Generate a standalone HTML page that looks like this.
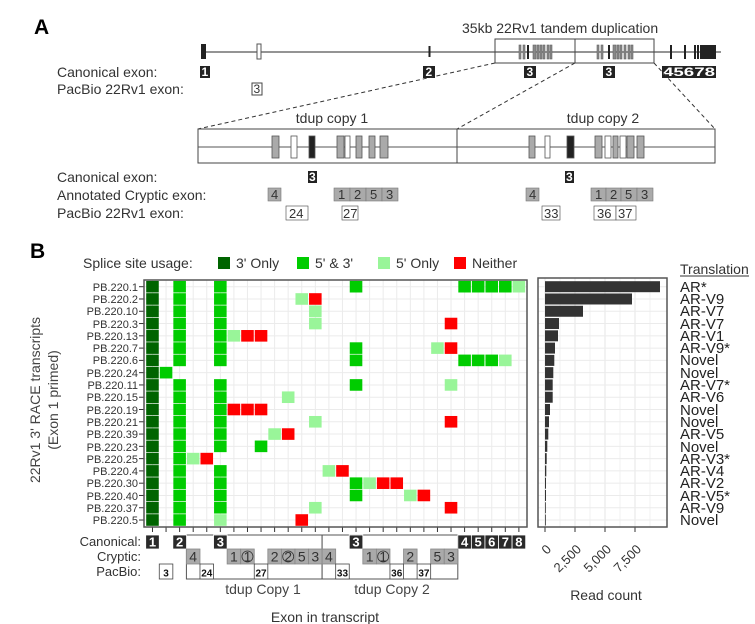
<!DOCTYPE html>
<html><head><meta charset="utf-8"><style>
body{margin:0;background:#fff;}
svg{display:block;font-family:"Liberation Sans",Arial,sans-serif;}
</style></head><body>
<svg id="s" width="755" height="624" viewBox="0 0 755 624" xmlns="http://www.w3.org/2000/svg">
<!-- Panel A -->
<text x="34" y="34" font-size="21" font-weight="bold">A</text>
<text x="462" y="33" font-size="14" fill="#333">35kb 22Rv1 tandem duplication</text>
<line x1="201" y1="52" x2="721" y2="52" stroke="#555" stroke-width="1.2"/>
<rect x="201" y="44" width="5" height="15" fill="#222"/>
<rect x="257" y="44" width="4" height="15" fill="#fff" stroke="#555"/>
<rect x="428.5" y="46" width="2" height="11" fill="#222"/>
<rect x="495" y="39" width="159" height="24" fill="none" stroke="#444"/>
<line x1="575" y1="39" x2="575" y2="63" stroke="#444"/>
<g fill="#888" stroke="#666" stroke-width="0.6">
<rect x="519" y="45" width="2" height="14"/><rect x="523" y="45" width="2" height="14"/><rect x="533" y="45" width="3" height="14"/><rect x="537" y="45" width="2" height="14"/><rect x="540" y="45" width="2" height="14"/><rect x="543" y="45" width="2" height="14"/><rect x="547" y="45" width="2" height="14"/><rect x="550" y="45" width="2" height="14"/>
<rect x="597" y="45" width="2" height="14"/><rect x="601" y="45" width="2" height="14"/><rect x="613" y="45" width="3" height="14"/><rect x="617" y="45" width="2" height="14"/><rect x="620" y="45" width="2" height="14"/><rect x="624" y="45" width="2" height="14"/><rect x="628" y="45" width="2" height="14"/><rect x="631" y="45" width="2" height="14"/>
</g>
<rect x="527" y="45" width="2" height="14" fill="#222"/><rect x="608" y="45" width="2" height="14" fill="#222"/>
<rect x="670" y="45" width="2" height="14" fill="#222"/><rect x="684" y="45" width="2" height="14" fill="#222"/>
<rect x="694" y="45" width="2" height="14" fill="#222"/><rect x="697" y="45" width="2" height="14" fill="#222"/>
<rect x="700" y="45" width="16" height="14" fill="#222"/>
<g font-size="14" fill="#333">
<text x="57" y="77">Canonical exon:</text>
<text x="57" y="94">PacBio 22Rv1 exon:</text>
</g>
<g font-size="12" font-weight="bold" fill="#fff">
<rect x="200" y="66" width="10" height="12" fill="#222"/><text x="201.5" y="76">1</text>
<rect x="423" y="66" width="12" height="12" fill="#222"/><text x="425.5" y="76">2</text>
<rect x="524" y="66" width="12" height="12" fill="#222"/><text x="526.5" y="76">3</text>
<rect x="603" y="66" width="12" height="12" fill="#222"/><text x="605.5" y="76">3</text>
<rect x="662" y="66" width="54" height="12" fill="#222"/>
<text x="663" y="76" textLength="52" lengthAdjust="spacingAndGlyphs">45678</text>
</g>
<rect x="252" y="83" width="10" height="12" fill="#fff" stroke="#444"/><text x="253.5" y="93" font-size="12" fill="#333">3</text>
<g stroke="#333" stroke-dasharray="4,3" stroke-width="1">
<line x1="495" y1="63" x2="198" y2="129"/>
<line x1="575" y1="63" x2="457" y2="129"/>
<line x1="654" y1="63" x2="715" y2="129"/>
</g>
<text x="332" y="123" font-size="14" fill="#333" text-anchor="middle">tdup copy 1</text>
<text x="603" y="123" font-size="14" fill="#333" text-anchor="middle">tdup copy 2</text>
<rect x="198" y="129" width="517" height="34" fill="#fff" stroke="#444"/>
<line x1="457" y1="129" x2="457" y2="163" stroke="#444"/>
<line x1="198" y1="147" x2="715" y2="147" stroke="#555"/>
<g stroke="#555" stroke-width="0.8">
<rect x="272" y="136" width="7" height="22" fill="#aaa"/><rect x="291" y="136" width="6" height="22" fill="#fff"/><rect x="309" y="136" width="6" height="22" fill="#222"/>
<rect x="337" y="136" width="7" height="22" fill="#aaa"/><rect x="345" y="136" width="5" height="22" fill="#fff"/><rect x="356" y="136" width="6" height="22" fill="#aaa"/><rect x="369" y="136" width="6" height="22" fill="#aaa"/><rect x="380" y="136" width="8" height="22" fill="#aaa"/>
<rect x="529" y="136" width="6" height="22" fill="#aaa"/><rect x="545" y="136" width="5" height="22" fill="#fff"/><rect x="567" y="136" width="7" height="22" fill="#222"/>
<rect x="595" y="136" width="7" height="22" fill="#aaa"/><rect x="605" y="136" width="6" height="22" fill="#fff"/><rect x="613" y="136" width="5" height="22" fill="#aaa"/><rect x="620" y="136" width="6" height="22" fill="#fff"/><rect x="627" y="136" width="7" height="22" fill="#aaa"/><rect x="637" y="136" width="7" height="22" fill="#aaa"/>
</g>
<g font-size="14" fill="#333">
<text x="57" y="182">Canonical exon:</text>
<text x="57" y="200">Annotated Cryptic exon:</text>
<text x="57" y="218">PacBio 22Rv1 exon:</text>
</g>
<g font-size="12" font-weight="bold" fill="#fff">
<rect x="308" y="171" width="9" height="12" fill="#222"/><text x="309" y="181">3</text>
<rect x="565" y="171" width="9" height="12" fill="#222"/><text x="566" y="181">3</text>
</g>
<g font-size="13" fill="#333" stroke="#777" stroke-width="0.6">
<rect x="268" y="188" width="13" height="13" fill="#aaa"/>
<rect x="334" y="188" width="16" height="13" fill="#aaa"/><rect x="350" y="188" width="16" height="13" fill="#aaa"/><rect x="366" y="188" width="16" height="13" fill="#aaa"/><rect x="382" y="188" width="16" height="13" fill="#aaa"/>
<rect x="526" y="188" width="13" height="13" fill="#aaa"/>
<rect x="591" y="188" width="15" height="13" fill="#aaa"/><rect x="606" y="188" width="15" height="13" fill="#aaa"/><rect x="621" y="188" width="16" height="13" fill="#aaa"/><rect x="637" y="188" width="16" height="13" fill="#aaa"/>
<rect x="286" y="206" width="22" height="14" fill="#fff" stroke="#444"/><rect x="342" y="206" width="16" height="14" fill="#fff" stroke="#444"/>
<rect x="542" y="206" width="18" height="14" fill="#fff" stroke="#444"/><rect x="594" y="206" width="22" height="14" fill="#fff" stroke="#444"/><rect x="616" y="206" width="20" height="14" fill="#fff" stroke="#444"/>
</g>
<g font-size="13" fill="#333">
<text x="271" y="199">4</text><text x="338" y="199">1</text><text x="354" y="199">2</text><text x="370" y="199">5</text><text x="386" y="199">3</text>
<text x="529" y="199">4</text><text x="595" y="199">1</text><text x="610" y="199">2</text><text x="625" y="199">5</text><text x="641" y="199">3</text>
<text x="289" y="218">24</text><text x="343" y="218">27</text><text x="544" y="218">33</text><text x="597" y="218">36</text><text x="618" y="218">37</text>
</g>

<!-- Panel B -->
<text x="30" y="258" font-size="21" font-weight="bold">B</text>
<g font-size="14" fill="#333">
<text x="83" y="268">Splice site usage:</text>
<rect x="218" y="257" width="12" height="12" fill="#006400"/><text x="236" y="268">3' Only</text>
<rect x="297" y="257" width="12" height="12" fill="#00cc00"/><text x="315" y="268">5' &amp; 3'</text>
<rect x="378" y="257" width="12" height="12" fill="#99f599"/><text x="396" y="268">5' Only</text>
<rect x="454" y="257" width="12" height="12" fill="#ff0000"/><text x="472" y="268">Neither</text>
</g>
<g id="grid"></g>
<rect x="144" y="280" width="383" height="247" fill="none" stroke="#555" stroke-width="1.5"/>
<g font-size="11" fill="#333" text-anchor="end">
<text x="138" y="291">PB.220.1</text><text x="138" y="303">PB.220.2</text><text x="138" y="315">PB.220.10</text><text x="138" y="328">PB.220.3</text><text x="138" y="340">PB.220.13</text><text x="138" y="352">PB.220.7</text><text x="138" y="364">PB.220.6</text><text x="138" y="377">PB.220.24</text><text x="138" y="389">PB.220.11</text><text x="138" y="401">PB.220.15</text><text x="138" y="414">PB.220.19</text><text x="138" y="426">PB.220.21</text><text x="138" y="438">PB.220.39</text><text x="138" y="451">PB.220.23</text><text x="138" y="463">PB.220.25</text><text x="138" y="475">PB.220.4</text><text x="138" y="487">PB.220.30</text><text x="138" y="500">PB.220.40</text><text x="138" y="512">PB.220.37</text><text x="138" y="524">PB.220.5</text>
</g>
<g font-size="14" fill="#444" text-anchor="middle">
<text transform="translate(40,400) rotate(-90)">22Rv1 3' RACE transcripts</text>
<text transform="translate(58,400) rotate(-90)">(Exon 1 primed)</text>
</g>
<g font-size="13" fill="#333" text-anchor="end">
<text x="141" y="546">Canonical:</text>
<text x="141" y="561">Cryptic:</text>
<text x="141" y="576">PacBio:</text>
</g>
<g id="axis"></g>
<text x="263" y="594" font-size="14" fill="#444" text-anchor="middle">tdup Copy 1</text>
<text x="392" y="594" font-size="14" fill="#444" text-anchor="middle">tdup Copy 2</text>
<text x="325" y="622" font-size="14" fill="#333" text-anchor="middle">Exon in transcript</text>

<!-- bar chart -->
<g id="bars"></g>
<rect x="538" y="278" width="129" height="249" fill="none" stroke="#555" stroke-width="1.5"/>
<g font-size="13" fill="#333">
<text transform="translate(552,550) rotate(-45)" text-anchor="end">0</text>
<text transform="translate(582,550) rotate(-45)" text-anchor="end">2,500</text>
<text transform="translate(612,550) rotate(-45)" text-anchor="end">5,000</text>
<text transform="translate(642,550) rotate(-45)" text-anchor="end">7,500</text>
</g>
<text x="606" y="600" font-size="14" fill="#333" text-anchor="middle">Read count</text>
<text x="680" y="274" font-size="14" fill="#333">Translation</text>
<line x1="680" y1="276" x2="749" y2="276" stroke="#333"/>
<g font-size="15" fill="#222">
<text x="680" y="292">AR*</text><text x="680" y="304">AR-V9</text><text x="680" y="316">AR-V7</text><text x="680" y="329">AR-V7</text><text x="680" y="341">AR-V1</text><text x="680" y="353">AR-V9*</text><text x="680" y="365">Novel</text><text x="680" y="378">Novel</text><text x="680" y="390">AR-V7*</text><text x="680" y="402">AR-V6</text><text x="680" y="415">Novel</text><text x="680" y="427">Novel</text><text x="680" y="439">AR-V5</text><text x="680" y="452">Novel</text><text x="680" y="464">AR-V3*</text><text x="680" y="476">AR-V4</text><text x="680" y="488">AR-V2</text><text x="680" y="501">AR-V5*</text><text x="680" y="513">AR-V9</text><text x="680" y="525">Novel</text>
</g>
</svg>
<script>
var NS="http://www.w3.org/2000/svg";
function el(p,t,a){var e=document.createElementNS(NS,t);for(var k in a)e.setAttribute(k,a[k]);p.appendChild(e);return e;}
var X0=145.7,CW=13.57,Y0=286.7,RH=12.28;
var col={d:"#006400",g:"#00cc00",l:"#99f599",r:"#ff0000"};
var rows=["0d2g5g15g23g24g25g26g27l","0d2g5g11l12r","0d2g5g12l","0d2g5g12l22r","0d2g5g6l7r8r","0d2g5g15g21l22r","0d2g5g15g23g24g25g26l","0d1g","0d2g5g15g22l","0d2g5g10l","0d2g5g6r7r8r","0d2g5g12l22r","0d2g5g9l10r","0d2g5g8g","0d2g3l4r","0d2g5g13l14r","0d2g5g15g16l17r18r","0d2g5g15g19l20r","0d2g5g12l22r","0d2g5l11r"];
var g=document.getElementById("grid");
for(var c=0;c<28;c++){el(g,"line",{x1:X0+(c+.5)*CW,y1:280,x2:X0+(c+.5)*CW,y2:527,stroke:"#ebebeb","stroke-width":1});
 el(g,"line",{x1:X0+(c+.5)*CW,y1:527,x2:X0+(c+.5)*CW,y2:532,stroke:"#333"});}
for(var r=0;r<20;r++){var y=Y0+r*RH;el(g,"line",{x1:144,y1:y,x2:527,y2:y,stroke:"#ebebeb"});
 el(g,"line",{x1:139,y1:y,x2:144,y2:y,stroke:"#333"});
 var re=/(\d+)([dglr])/g,m;while((m=re.exec(rows[r]))){var cc=+m[1];
 el(g,"rect",{x:X0+cc*CW+0.5,y:y-5.8,width:CW-1,height:11.6,fill:col[m[2]]});}}
var b=document.getElementById("bars");
[545,575,605,635].forEach(function(x){el(b,"line",{x1:x,y1:278,x2:x,y2:527,stroke:"#e6e6e6"});el(b,"line",{x1:x,y1:527,x2:x,y2:532,stroke:"#333"});});
[560,590,620,650].forEach(function(x){el(b,"line",{x1:x,y1:278,x2:x,y2:527,stroke:"#f2f2f2"});});
var L=[115,87,38,14,13,10,9.3,8.3,7.7,7.7,5,4,3.3,2.3,1.7,1.3,1,1,0.8,0.8];
for(var i=0;i<20;i++){var y=Y0+i*RH;el(b,"line",{x1:538,y1:y,x2:667,y2:y,stroke:"#ebebeb"});
 el(b,"rect",{x:545,y:y-5.5,width:L[i],height:11,fill:"#333"});}
var a=document.getElementById("axis");
function box(c,y,h,fill,txt,tc,fs,w,bold,stroke){var x=X0+c*CW;w=w||CW;
 el(a,"rect",{x:x,y:y,width:w,height:h,fill:fill,stroke:stroke||"none","stroke-width":0.8});
 var t=el(a,"text",{x:x+w/2,y:y+h-2.5,"font-size":fs,fill:tc,"text-anchor":"middle","font-weight":bold?"bold":"normal"});t.textContent=txt;}
el(a,"rect",{x:X0+3*CW,y:535,width:10*CW,height:44,fill:"#fff",stroke:"#555"});
el(a,"rect",{x:X0+13*CW,y:535,width:10*CW,height:44,fill:"#fff",stroke:"#555"});
[[0,"1"],[2,"2"],[5,"3"],[15,"3"],[23,"4"],[24,"5"],[25,"6"],[26,"7"],[27,"8"]].forEach(function(p){box(p[0],535,14,"#2a2a2a",p[1],"#fff",13,0,1,"#fff");});
[[3,"4"],[6,"1"],[7,"1",1],[9,"2"],[10,"2",1],[11,"5"],[12,"3"],[13,"4"],[16,"1"],[17,"1",1],[19,"2"],[21,"5"],[22,"3"]].forEach(function(p){box(p[0],549,15,"#aaa",p[1],"#333",14,0,0,"#888");
 if(p[2])el(a,"circle",{cx:X0+(p[0]+.5)*CW,cy:556.5,r:5.5,fill:"none",stroke:"#333","stroke-width":0.8});});
[[1,"3"],[4,"24"],[8,"27"],[14,"33"],[18,"36"],[20,"37"]].forEach(function(p){box(p[0],564,15,"#fff",p[1],"#111",10,0,1,"#444");});
</script>
</body></html>
